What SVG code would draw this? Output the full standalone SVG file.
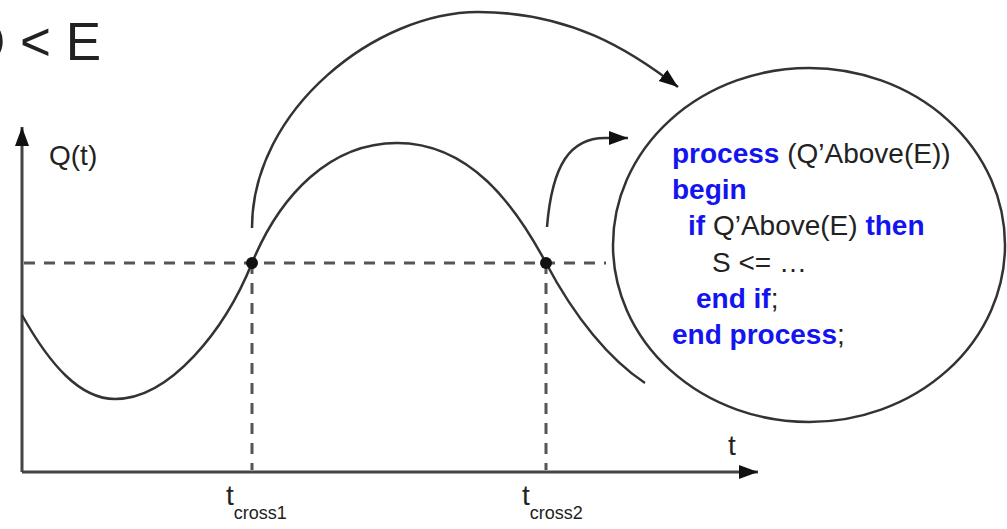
<svg xmlns="http://www.w3.org/2000/svg" width="1007" height="529" viewBox="0 0 1007 529">
  <style>
    .txt { font-family: "Liberation Sans", Arial, sans-serif; fill: #222; }
    .kw { font-weight: bold; fill: #1414f0; }
    .axis { stroke: #444; stroke-width: 3; fill: none; }
    .curve { stroke: #333; stroke-width: 2.5; fill: none; }
    .dash { stroke: #555; stroke-width: 3; fill: none; stroke-dasharray: 11 9; }
  </style>
  <defs>
    <marker id="arrow" markerUnits="userSpaceOnUse" markerWidth="20" markerHeight="16" viewBox="0 0 20 16" refX="19" refY="8" orient="auto">
      <path d="M0,1 L19,8 L0,15 Z" fill="#111"/>
    </marker>
  </defs>

  <!-- title -->
  <text class="txt" x="101" y="60" font-size="53" text-anchor="end">Q &lt; E</text>

  <!-- axes -->
  <g id="axes">
    <line class="axis" x1="22" y1="472" x2="22" y2="127" marker-end="url(#arrow)"/>
    <line class="axis" x1="22" y1="472" x2="758" y2="472" marker-end="url(#arrow)"/>
    <text class="txt" x="49" y="165" font-size="28">Q(t)</text>
    <text class="txt" x="728" y="455" font-size="28">t</text>
  </g>

  <!-- threshold and crossing markers -->
  <g id="threshold">
    <line class="dash" x1="24" y1="263" x2="606" y2="263"/>
    <line class="dash" x1="252" y1="263" x2="252" y2="470"/>
    <line class="dash" x1="546" y1="263" x2="546" y2="470"/>
  </g>

  <!-- signal Q(t) -->
  <g id="signal">
    <path class="curve" d="M22,315 C50,365 80,399 115,399 C170,399 225,330 252,263 C280,195 330,143 397,143 C470,143 515,205 546,263 C575,318 610,360 645,383"/>
  </g>

  <g id="cross1">
    <circle cx="252" cy="263" r="6" fill="#111"/>
    <text class="txt" x="226" y="505" font-size="28">t<tspan font-size="18" dy="14">cross1</tspan></text>
  </g>
  <g id="cross2">
    <circle cx="546" cy="263" r="6" fill="#111"/>
    <text class="txt" x="522" y="505" font-size="28">t<tspan font-size="18" dy="14">cross2</tspan></text>
  </g>

  <!-- event arcs -->
  <g id="connectors">
    <path class="curve" d="M252,228 C252,109 377,12 478,12 C570,12 630,50 678,87" marker-end="url(#arrow)"/>
    <path class="curve" d="M547,227 C552,165 570,138 605,138 L628,138" marker-end="url(#arrow)"/>
  </g>

  <!-- process -->
  <g id="process">
    <ellipse cx="809" cy="245" rx="196" ry="177" fill="#fff" stroke="#333" stroke-width="2.5"/>
    <text class="txt" font-size="28">
      <tspan x="672" y="163"><tspan class="kw">process</tspan> (Q’Above(E))</tspan>
      <tspan x="672" y="199" class="kw">begin</tspan>
      <tspan x="688" y="235"><tspan class="kw">if</tspan> Q’Above(E) <tspan class="kw">then</tspan></tspan>
      <tspan x="712" y="272">S &lt;= …</tspan>
      <tspan x="696" y="308"><tspan class="kw">end if</tspan>;</tspan>
      <tspan x="672" y="344"><tspan class="kw">end process</tspan>;</tspan>
    </text>
  </g>
</svg>
